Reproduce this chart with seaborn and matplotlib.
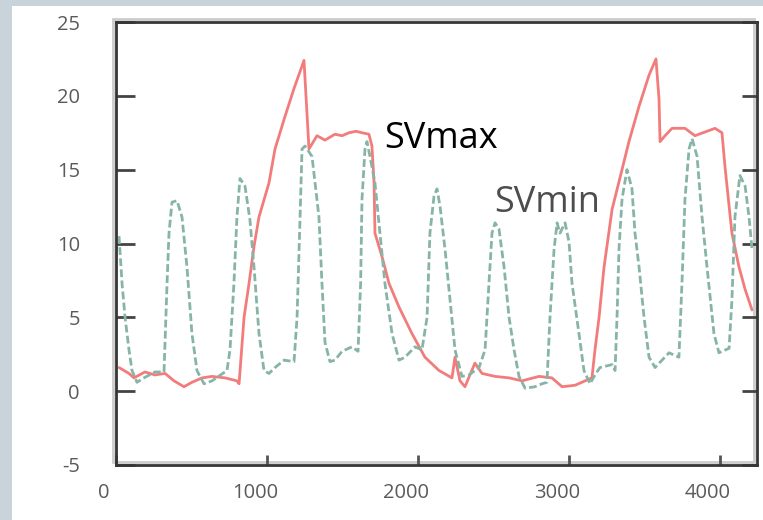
import matplotlib
matplotlib.use("Agg")
import matplotlib.pyplot as plt
import matplotlib.transforms as mtransforms
from matplotlib.patches import Rectangle
import seaborn as sns

# SVmax trace (solid red)
max_x = [20, 86, 119, 192, 258, 325, 384, 450, 503, 570,
         636, 722, 801, 815, 848, 881, 914, 947, 1013, 1053,
         1119, 1179, 1245, 1278, 1331, 1384, 1450, 1497, 1543, 1589,
         1629, 1675, 1695, 1709, 1715, 1762, 1808, 1874, 1960, 2046,
         2139, 2225, 2245, 2278, 2311, 2377, 2424, 2510, 2603, 2689,
         2801, 2887, 2954, 3040, 3152, 3172, 3199, 3232, 3285, 3351,
         3397, 3464, 3530, 3576, 3596, 3603, 3636, 3682, 3768, 3834,
         3967, 4013, 4033, 4079, 4126, 4166, 4212]
max_y = [1.6, 1.2, 0.9, 1.3, 1.1, 1.2, 0.7, 0.3, 0.6, 0.9,
         1.0, 0.9, 0.7, 0.5, 5.0, 7.3, 9.8, 11.8, 14.1, 16.4,
         18.6, 20.5, 22.4, 16.4, 17.3, 17.0, 17.4, 17.3, 17.5, 17.6,
         17.5, 17.4, 16.6, 14.1, 10.7, 9.1, 7.3, 5.7, 3.9, 2.3,
         1.4, 0.9, 2.3, 0.7, 0.3, 1.9, 1.2, 1.0, 0.9, 0.7,
         1.0, 0.9, 0.3, 0.4, 0.9, 2.8, 5.0, 8.4, 12.3, 15.0,
         16.9, 19.3, 21.4, 22.5, 19.8, 16.9, 17.3, 17.8, 17.8, 17.3,
         17.8, 17.5, 15.2, 10.7, 8.4, 6.9, 5.5]

# SVmin trace (dashed green)
min_x = [20, 40, 60, 86, 106, 139, 185, 258, 318, 338,
         351, 371, 404, 437, 470, 503, 536, 583, 636, 735,
         755, 781, 801, 821, 854, 887, 914, 947, 980, 1013,
         1053, 1113, 1179, 1199, 1219, 1232, 1252, 1298, 1344, 1364,
         1384, 1417, 1450, 1497, 1563, 1603, 1620, 1629, 1649, 1662,
         1682, 1715, 1748, 1781, 1828, 1874, 1914, 1980, 2026, 2060,
         2079, 2106, 2126, 2146, 2179, 2212, 2245, 2291, 2338, 2404,
         2444, 2470, 2490, 2510, 2536, 2570, 2603, 2636, 2669, 2709,
         2775, 2821, 2854, 2874, 2901, 2921, 2940, 2974, 3000, 3020,
         3066, 3099, 3139, 3172, 3205, 3285, 3305, 3318, 3331, 3351,
         3384, 3417, 3437, 3464, 3497, 3530, 3570, 3662, 3728, 3748,
         3768, 3795, 3815, 3848, 3881, 3914, 3960, 3993, 4060, 4079,
         4099, 4132, 4166, 4192, 4212]
min_y = [10.5, 7.3, 5.0, 2.8, 1.4, 0.6, 0.9, 1.3, 1.3, 7.3,
         10.7, 12.8, 12.9, 11.8, 8.4, 3.9, 1.4, 0.5, 0.7, 1.4,
         2.8, 7.3, 11.8, 14.4, 13.9, 11.6, 8.4, 3.9, 1.4, 1.2,
         1.6, 2.1, 2.0, 5.0, 11.8, 16.4, 16.6, 15.9, 11.8, 7.3,
         3.3, 2.0, 2.1, 2.7, 3.0, 2.7, 7.3, 13.0, 16.4, 16.9,
         15.9, 14.1, 10.7, 7.3, 3.9, 2.1, 2.3, 3.0, 2.8, 5.0,
         10.7, 13.2, 13.7, 12.5, 9.6, 6.2, 2.8, 1.0, 1.1, 1.6,
         2.8, 7.3, 10.7, 11.4, 11.0, 8.4, 5.0, 2.8, 1.0, 0.2,
         0.3, 0.5, 0.6, 5.0, 9.6, 11.4, 10.7, 11.4, 10.1, 7.3,
         3.9, 1.4, 0.5, 1.1, 1.6, 1.8, 1.4, 5.0, 9.6, 13.0,
         15.0, 13.7, 10.7, 8.4, 5.0, 2.3, 1.6, 2.6, 2.3, 7.3,
         13.0, 16.4, 17.1, 15.9, 11.8, 8.4, 3.9, 2.6, 2.9, 6.2,
         11.8, 14.6, 13.9, 11.8, 9.6]

x_ticks = [0, 1000, 2000, 3000, 4000]
y_ticks = [-5, 0, 5, 10, 15, 20, 25]

sns.set_style("white")
plt.rcParams['font.family'] = ['Open Sans', 'DejaVu Sans']
plt.rcParams['axes.unicode_minus'] = False

fig = plt.figure(figsize=(7.63, 5.2), dpi=100, facecolor='#c9d3da')
# white panel inside the grey frame
fig.patches.append(Rectangle((12 / 763, 0), 1, 1 - 6 / 520, transform=fig.transFigure,
                             facecolor='white', edgecolor='none', zorder=-10))
ax = fig.add_axes([116 / 763, 55 / 520, 641 / 763, 443 / 520])
ax.set_facecolor('none')

sns.lineplot(x=max_x, y=max_y, ax=ax, color='#f27c7c', linewidth=2.0)
sns.lineplot(x=min_x, y=min_y, ax=ax, color='#86b5a8', linewidth=2.0)
ax.lines[-1].set_dashes([2.8, 1.2])

ax.set_xlim(0, 4245)
ax.set_ylim(-5, 25)
ax.set_xticks(x_ticks)
ax.set_yticks(y_ticks)

ax.text(1775, 16.5, 'SVmax', fontsize=26, color='black', va='baseline', ha='left')
ax.text(2503, 12.1, 'SVmin', fontsize=26, color='#4d4d4d', va='baseline', ha='left')

for side in ['left', 'right', 'top', 'bottom']:
    ax.spines[side].set_visible(True)
    ax.spines[side].set_color('#363636')
    ax.spines[side].set_linewidth(2.0)

# faint grey shadow of the frame, shifted up-left
shift = mtransforms.ScaledTranslation(-3 / 100, 3 / 100, fig.dpi_scale_trans)
ax.add_patch(Rectangle((0, 0), 1, 1, transform=ax.transAxes + shift, fill=False,
                       edgecolor='#cccccc', linewidth=2.0, clip_on=False, zorder=0))

ax.tick_params(axis='y', direction='in', length=14, width=2, color='#444444',
               left=True, right=True, labelsize=14.5, labelcolor='#5a5a5a', pad=26)
ax.tick_params(axis='x', direction='in', length=7, width=2, color='#555555',
               bottom=True, top=False, labelsize=14.5, labelcolor='#5a5a5a', pad=13)
for t in ax.yaxis.get_major_ticks():
    t.tick2line.set_markersize(11)

# x labels sit a little to the left of their ticks in the original
offset = mtransforms.ScaledTranslation(-12 / 100, 0, fig.dpi_scale_trans)
for lab in ax.get_xticklabels():
    lab.set_transform(lab.get_transform() + offset)

fig.savefig('out.png', dpi=100, facecolor=fig.get_facecolor())
